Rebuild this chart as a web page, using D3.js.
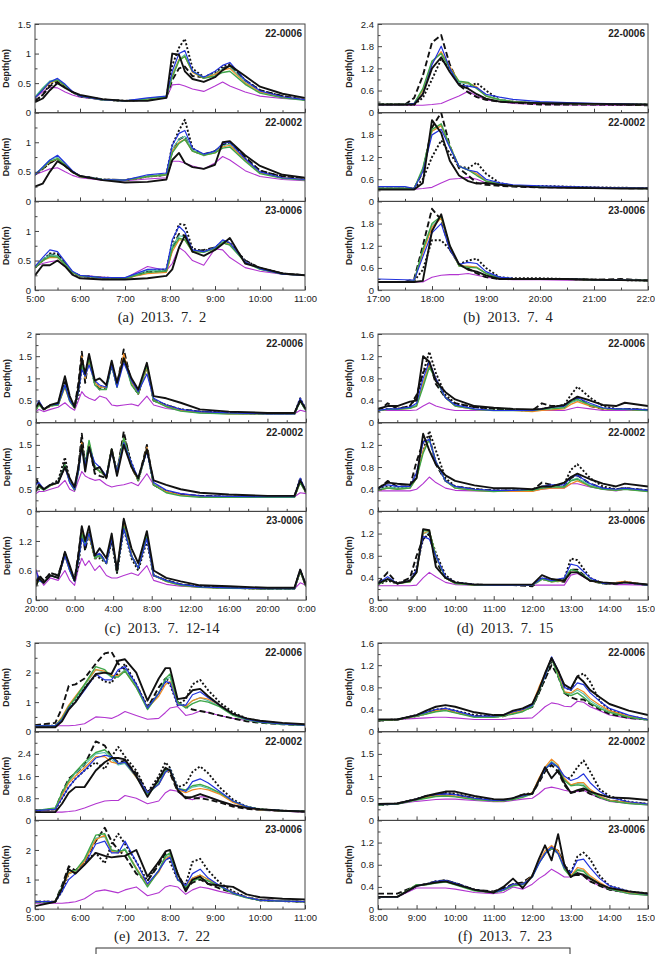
<!DOCTYPE html>
<html>
<head>
<meta charset="utf-8">
<script src="https://cdn.jsdelivr.net/npm/d3@7"></script>
<style>
  body { margin: 0; background: #fff; }
  svg { display: block; font-family: "Liberation Sans", Arial, sans-serif; }
</style>
</head>
<body>
<div id="chart"></div>
<script>
// series order in every depth table row
const seriesNames = ["Observed", "Model A", "Model B", "Model C", "Model D", "Model E", "Model F", "Model G"];
const stations = ["22-0006", "22-0002", "23-0006"];

// ---------- (a) 2013.7.2 ----------
const timeA = [5.0,5.17,5.33,5.5,5.67,5.83,6.0,6.5,7.0,7.5,7.92,8.05,8.2,8.33,8.5,8.75,9.0,9.17,9.33,9.67,10.0,10.5,11.0];
const depthA1 = [
  [0.18,0.24,0.38,0.5,0.42,0.35,0.3,0.23,0.2,0.2,0.25,1.0,0.98,0.7,0.57,0.52,0.6,0.72,0.8,0.62,0.44,0.32,0.25],
  [0.2,0.3,0.45,0.52,0.45,0.35,0.28,0.22,0.2,0.22,0.27,0.55,0.75,0.78,0.62,0.6,0.65,0.75,0.78,0.55,0.38,0.28,0.22],
  [0.2,0.3,0.48,0.55,0.45,0.35,0.28,0.22,0.2,0.22,0.27,0.8,1.1,1.25,0.75,0.6,0.68,0.78,0.82,0.55,0.38,0.28,0.22],
  [0.25,0.38,0.52,0.58,0.48,0.36,0.28,0.22,0.2,0.25,0.28,0.7,1.0,1.05,0.7,0.6,0.7,0.8,0.85,0.55,0.37,0.27,0.22],
  [0.25,0.38,0.5,0.55,0.46,0.35,0.28,0.22,0.2,0.23,0.27,0.62,0.9,0.95,0.68,0.58,0.65,0.72,0.75,0.5,0.35,0.26,0.22],
  [0.25,0.4,0.52,0.55,0.46,0.35,0.28,0.22,0.2,0.23,0.27,0.6,0.88,0.95,0.7,0.58,0.62,0.68,0.7,0.48,0.33,0.25,0.21],
  [0.27,0.42,0.54,0.56,0.46,0.35,0.28,0.22,0.2,0.24,0.28,0.65,0.9,0.98,0.7,0.6,0.66,0.74,0.78,0.52,0.35,0.26,0.22],
  [0.25,0.35,0.43,0.42,0.35,0.3,0.26,0.22,0.2,0.22,0.25,0.47,0.48,0.45,0.4,0.36,0.45,0.52,0.45,0.35,0.28,0.24,0.22]
];
const depthA2 = [
  [0.25,0.3,0.5,0.68,0.6,0.5,0.43,0.36,0.32,0.33,0.37,0.7,0.82,0.65,0.58,0.55,0.62,1.0,1.02,0.78,0.6,0.45,0.4],
  [0.45,0.55,0.65,0.72,0.6,0.5,0.43,0.37,0.36,0.42,0.45,0.85,1.05,1.1,0.85,0.8,0.85,0.95,1.0,0.75,0.52,0.42,0.38],
  [0.45,0.55,0.65,0.72,0.6,0.5,0.43,0.37,0.36,0.42,0.45,0.95,1.2,1.38,0.9,0.78,0.85,0.95,1.0,0.72,0.52,0.42,0.38],
  [0.45,0.58,0.7,0.78,0.65,0.52,0.43,0.37,0.36,0.45,0.48,0.95,1.15,1.2,0.9,0.8,0.85,0.98,1.0,0.72,0.5,0.4,0.37],
  [0.45,0.56,0.67,0.72,0.62,0.5,0.42,0.37,0.36,0.42,0.45,0.85,1.0,1.05,0.85,0.78,0.82,0.92,0.95,0.7,0.48,0.4,0.37],
  [0.45,0.56,0.68,0.72,0.62,0.5,0.42,0.37,0.36,0.42,0.45,0.82,0.98,1.05,0.85,0.78,0.82,0.9,0.92,0.68,0.47,0.39,0.36],
  [0.46,0.58,0.7,0.75,0.63,0.51,0.43,0.37,0.36,0.43,0.46,0.88,1.05,1.1,0.87,0.79,0.84,0.94,0.97,0.7,0.49,0.4,0.37],
  [0.45,0.5,0.55,0.57,0.5,0.44,0.4,0.36,0.35,0.38,0.4,0.68,0.68,0.65,0.6,0.55,0.65,0.76,0.7,0.52,0.42,0.37,0.35]
];
const depthA3 = [
  [0.25,0.42,0.42,0.5,0.4,0.26,0.2,0.18,0.18,0.2,0.24,0.35,0.72,0.92,0.65,0.58,0.68,0.78,0.88,0.45,0.38,0.28,0.25],
  [0.38,0.5,0.6,0.6,0.45,0.3,0.24,0.21,0.2,0.3,0.33,0.7,0.95,0.92,0.65,0.68,0.72,0.8,0.78,0.5,0.37,0.28,0.25],
  [0.38,0.5,0.62,0.62,0.45,0.3,0.24,0.21,0.2,0.32,0.35,0.8,1.12,1.1,0.7,0.66,0.72,0.82,0.8,0.5,0.37,0.28,0.25],
  [0.4,0.55,0.68,0.65,0.48,0.32,0.25,0.21,0.21,0.35,0.36,0.85,1.08,0.98,0.68,0.65,0.72,0.85,0.8,0.48,0.36,0.27,0.25],
  [0.38,0.5,0.55,0.55,0.42,0.3,0.24,0.21,0.2,0.28,0.3,0.65,0.85,0.85,0.65,0.65,0.7,0.8,0.78,0.48,0.36,0.27,0.25],
  [0.38,0.5,0.57,0.56,0.43,0.3,0.24,0.21,0.2,0.3,0.32,0.7,0.88,0.85,0.65,0.64,0.7,0.8,0.76,0.47,0.35,0.27,0.25],
  [0.4,0.52,0.6,0.58,0.44,0.31,0.24,0.21,0.21,0.33,0.34,0.75,0.92,0.9,0.67,0.65,0.72,0.82,0.78,0.48,0.36,0.27,0.25],
  [0.4,0.45,0.48,0.5,0.4,0.3,0.25,0.22,0.2,0.4,0.33,0.45,0.72,0.65,0.5,0.42,0.7,0.68,0.55,0.38,0.32,0.27,0.25]
];

// ---------- (b) 2013.7.4 ----------
const timeB = [17.0,17.5,17.67,17.83,18.0,18.17,18.33,18.5,18.67,18.83,19.0,19.25,19.5,20.0,20.5,21.0,21.5,22.0];
const depthB1 = [
  [0.22,0.22,0.22,0.5,1.2,1.5,1.1,0.75,0.65,0.5,0.38,0.3,0.28,0.26,0.25,0.24,0.23,0.22],
  [0.22,0.22,0.4,1.0,1.9,2.1,1.3,0.75,0.55,0.42,0.35,0.3,0.28,0.22,0.22,0.22,0.22,0.2],
  [0.22,0.22,0.22,0.4,0.9,1.45,1.2,0.8,0.7,0.8,0.6,0.35,0.3,0.25,0.24,0.23,0.22,0.22],
  [0.22,0.22,0.25,0.5,1.3,1.8,1.2,0.75,0.72,0.68,0.5,0.42,0.36,0.3,0.27,0.25,0.24,0.22],
  [0.22,0.22,0.25,0.6,1.35,1.65,1.25,0.85,0.8,0.7,0.45,0.35,0.3,0.26,0.25,0.24,0.23,0.22],
  [0.22,0.22,0.25,0.65,1.4,1.6,1.2,0.85,0.82,0.65,0.45,0.35,0.3,0.26,0.25,0.24,0.23,0.22],
  [0.22,0.22,0.25,0.6,1.38,1.62,1.22,0.82,0.78,0.68,0.47,0.36,0.31,0.27,0.25,0.24,0.23,0.22],
  [0.2,0.2,0.2,0.2,0.22,0.25,0.35,0.45,0.58,0.45,0.35,0.3,0.25,0.22,0.21,0.2,0.2,0.2]
];
const depthB2 = [
  [0.32,0.32,0.32,0.5,2.2,1.85,1.1,0.7,0.55,0.48,0.5,0.45,0.42,0.38,0.37,0.36,0.35,0.35],
  [0.35,0.35,0.35,0.8,2.0,2.4,1.5,0.9,0.7,0.5,0.45,0.42,0.4,0.38,0.38,0.37,0.36,0.35],
  [0.35,0.35,0.35,0.6,1.2,1.65,1.3,0.95,0.9,1.05,0.75,0.5,0.42,0.42,0.4,0.38,0.37,0.36],
  [0.4,0.4,0.35,0.8,1.8,1.95,1.45,0.95,0.85,0.8,0.6,0.5,0.45,0.42,0.4,0.38,0.37,0.36],
  [0.35,0.35,0.35,0.85,1.9,2.05,1.5,0.95,0.85,0.75,0.55,0.48,0.42,0.4,0.38,0.37,0.36,0.35],
  [0.35,0.35,0.35,0.9,1.95,2.1,1.5,0.95,0.85,0.7,0.55,0.47,0.42,0.4,0.38,0.37,0.36,0.35],
  [0.36,0.36,0.35,0.85,1.9,2.05,1.48,0.95,0.86,0.74,0.56,0.48,0.43,0.4,0.38,0.37,0.36,0.35],
  [0.33,0.33,0.33,0.35,0.38,0.5,0.6,0.62,0.65,0.6,0.5,0.45,0.42,0.38,0.37,0.36,0.35,0.35]
];
const depthB3 = [
  [0.22,0.22,0.22,0.25,1.6,2.05,1.2,0.7,0.55,0.5,0.4,0.3,0.3,0.3,0.3,0.28,0.27,0.26],
  [0.22,0.22,0.3,1.2,2.2,1.9,1.1,0.7,0.58,0.45,0.35,0.3,0.3,0.3,0.3,0.28,0.3,0.26],
  [0.22,0.22,0.25,0.55,1.35,1.35,1.1,0.7,0.8,0.85,0.6,0.35,0.32,0.32,0.3,0.28,0.27,0.26],
  [0.3,0.28,0.27,0.9,1.55,1.8,1.1,0.7,0.75,0.72,0.5,0.35,0.32,0.3,0.3,0.28,0.27,0.26],
  [0.22,0.22,0.25,1.0,1.7,1.95,1.15,0.65,0.65,0.62,0.45,0.33,0.3,0.3,0.29,0.28,0.27,0.26],
  [0.22,0.22,0.25,1.1,1.8,2.0,1.2,0.65,0.62,0.6,0.45,0.33,0.3,0.3,0.29,0.28,0.27,0.26],
  [0.22,0.22,0.25,1.05,1.75,1.97,1.17,0.66,0.64,0.62,0.46,0.34,0.31,0.3,0.29,0.28,0.27,0.26],
  [0.22,0.22,0.22,0.22,0.35,0.4,0.42,0.42,0.45,0.4,0.35,0.3,0.28,0.28,0.27,0.27,0.26,0.26]
];

// ---------- (c) 2013.7.12-14, hours after 20:00 on the 12th ----------
const timeC = [0,0.3,0.8,1.5,2.3,3.0,3.5,4.0,4.4,4.75,5.1,5.5,6.1,6.6,7.3,7.85,8.4,9.1,9.9,10.6,11.5,12.2,13.5,15,17,20,24,26.8,27.4,28];
const depthC1 = [
  [0.35,0.45,0.3,0.4,0.45,1.05,0.6,0.35,0.8,1.45,1.1,1.55,0.95,1.0,0.85,1.4,0.9,1.45,1.0,0.75,1.35,0.6,0.55,0.45,0.3,0.25,0.22,0.22,0.5,0.3],
  [0.3,0.45,0.3,0.4,0.42,0.9,0.55,0.35,0.9,1.6,0.9,1.5,0.9,0.75,0.8,1.35,0.85,1.65,0.9,0.65,1.3,0.5,0.4,0.3,0.25,0.22,0.2,0.2,0.5,0.28],
  [0.3,0.45,0.3,0.38,0.42,0.95,0.55,0.35,0.6,1.3,1.1,1.4,0.9,0.8,0.8,1.3,0.85,1.5,0.9,0.65,1.25,0.5,0.4,0.3,0.25,0.22,0.2,0.2,0.55,0.3],
  [0.35,0.5,0.3,0.4,0.42,0.85,0.5,0.35,0.7,1.2,1.05,1.3,0.95,0.85,0.8,1.3,0.8,1.35,0.95,0.7,1.1,0.55,0.4,0.3,0.25,0.22,0.2,0.2,0.55,0.3],
  [0.3,0.42,0.3,0.38,0.4,0.8,0.48,0.33,0.7,1.5,1.0,1.4,0.9,0.8,0.8,1.35,0.85,1.55,0.9,0.65,1.25,0.5,0.38,0.28,0.23,0.2,0.2,0.2,0.5,0.28],
  [0.28,0.4,0.3,0.38,0.4,0.82,0.48,0.33,0.7,1.3,1.05,1.45,0.85,0.75,0.75,1.3,0.8,1.45,0.85,0.65,1.3,0.5,0.36,0.26,0.22,0.2,0.2,0.2,0.48,0.27],
  [0.3,0.42,0.3,0.4,0.4,0.85,0.5,0.33,0.72,1.35,1.0,1.45,0.9,0.8,0.8,1.35,0.82,1.45,0.9,0.68,1.25,0.5,0.37,0.27,0.22,0.2,0.2,0.2,0.5,0.27],
  [0.25,0.3,0.25,0.3,0.35,0.45,0.35,0.28,0.5,0.7,0.6,0.55,0.5,0.6,0.55,0.4,0.38,0.4,0.42,0.38,0.6,0.4,0.32,0.28,0.25,0.22,0.2,0.2,0.28,0.25]
];
const depthC2 = [
  [0.45,0.6,0.5,0.6,0.65,1.0,0.75,0.55,1.0,1.5,0.9,1.45,0.95,1.0,0.75,1.4,0.8,1.5,1.0,0.75,1.4,0.7,0.6,0.5,0.42,0.38,0.35,0.35,0.7,0.45],
  [0.75,0.6,0.5,0.6,0.65,1.1,0.7,0.5,1.0,1.75,1.0,1.5,0.85,0.8,0.75,1.4,0.85,1.8,1.0,0.7,1.5,0.6,0.45,0.38,0.35,0.33,0.33,0.33,0.7,0.42],
  [0.65,0.6,0.5,0.6,0.7,1.22,0.7,0.5,0.9,1.6,1.1,1.5,1.0,0.9,0.8,1.4,0.9,1.7,1.1,0.7,1.4,0.6,0.45,0.38,0.35,0.33,0.33,0.33,0.75,0.42],
  [0.6,0.65,0.5,0.6,0.65,1.0,0.65,0.5,0.9,1.45,1.05,1.45,1.1,1.0,0.8,1.35,0.9,1.55,1.1,0.75,1.35,0.65,0.48,0.4,0.35,0.34,0.33,0.33,0.75,0.45],
  [0.5,0.55,0.5,0.58,0.65,1.0,0.65,0.5,0.9,1.55,1.0,1.55,1.0,0.9,0.8,1.4,0.88,1.65,1.0,0.7,1.45,0.6,0.45,0.37,0.33,0.32,0.32,0.32,0.65,0.42],
  [0.5,0.55,0.48,0.58,0.65,1.05,0.65,0.48,0.9,1.5,1.05,1.6,1.0,0.9,0.8,1.4,0.88,1.65,1.05,0.7,1.4,0.6,0.42,0.35,0.32,0.32,0.32,0.32,0.65,0.42],
  [0.52,0.57,0.5,0.6,0.65,1.0,0.66,0.5,0.9,1.5,1.02,1.55,1.02,0.92,0.8,1.38,0.88,1.62,1.04,0.72,1.4,0.62,0.44,0.36,0.33,0.32,0.32,0.32,0.68,0.43],
  [0.4,0.45,0.45,0.5,0.55,0.7,0.5,0.45,0.7,0.9,0.8,0.75,0.7,0.72,0.6,0.55,0.58,0.6,0.65,0.58,0.85,0.6,0.45,0.4,0.35,0.33,0.33,0.33,0.42,0.4]
];
const depthC3 = [
  [0.28,0.45,0.35,0.5,0.45,0.98,0.7,0.4,0.9,1.5,1.2,1.5,0.9,1.05,0.85,1.35,0.6,1.65,1.05,0.75,1.4,0.6,0.45,0.38,0.3,0.28,0.25,0.25,0.62,0.3],
  [0.35,0.5,0.4,0.55,0.5,0.95,0.65,0.4,0.95,1.45,1.0,1.4,0.85,0.95,0.75,1.25,0.55,1.6,0.9,0.65,1.3,0.5,0.4,0.32,0.27,0.25,0.23,0.23,0.6,0.28],
  [0.3,0.5,0.4,0.55,0.5,0.95,0.65,0.4,0.7,1.3,1.1,1.3,0.85,0.85,0.75,1.2,0.55,1.45,0.85,0.6,1.2,0.5,0.4,0.32,0.27,0.25,0.23,0.23,0.6,0.28],
  [0.6,0.4,0.35,0.5,0.45,0.9,0.6,0.38,0.8,1.25,1.1,1.35,0.9,0.95,0.75,1.25,0.6,1.45,0.9,0.65,1.25,0.5,0.4,0.32,0.27,0.25,0.23,0.23,0.62,0.3],
  [0.35,0.4,0.35,0.5,0.45,0.9,0.6,0.38,0.8,1.4,1.2,1.3,0.85,0.9,0.75,1.3,0.6,1.55,0.9,0.65,1.3,0.5,0.38,0.3,0.26,0.24,0.23,0.23,0.58,0.28],
  [0.3,0.4,0.35,0.5,0.45,0.92,0.6,0.38,0.8,1.35,1.15,1.35,0.85,0.9,0.75,1.3,0.58,1.5,0.9,0.65,1.3,0.5,0.38,0.3,0.26,0.24,0.23,0.23,0.58,0.28],
  [0.32,0.42,0.35,0.5,0.45,0.9,0.6,0.38,0.8,1.35,1.12,1.32,0.87,0.92,0.75,1.28,0.6,1.5,0.9,0.65,1.28,0.5,0.39,0.31,0.26,0.24,0.23,0.23,0.6,0.29],
  [0.62,0.45,0.3,0.45,0.4,0.6,0.4,0.3,0.65,0.85,0.7,0.8,0.6,0.7,0.5,0.45,0.45,0.5,0.55,0.5,0.7,0.4,0.32,0.28,0.26,0.25,0.23,0.23,0.35,0.3]
];

// ---------- (d) 2013.7.15 ----------
const timeD = [8.0,8.25,8.5,8.83,9.0,9.17,9.33,9.5,9.75,10.0,10.5,11.0,11.5,12.0,12.25,12.5,12.83,13.0,13.17,13.5,13.83,14.17,14.4,15.0];
const depthD1 = [
  [0.25,0.3,0.3,0.38,0.4,1.2,1.1,0.75,0.55,0.42,0.3,0.27,0.25,0.24,0.25,0.28,0.32,0.4,0.47,0.4,0.32,0.3,0.36,0.3],
  [0.2,0.35,0.25,0.3,0.5,0.9,1.1,0.7,0.45,0.35,0.28,0.25,0.24,0.22,0.35,0.3,0.3,0.4,0.45,0.3,0.25,0.25,0.25,0.23],
  [0.22,0.25,0.25,0.3,0.45,0.9,1.28,0.9,0.5,0.35,0.28,0.25,0.23,0.22,0.25,0.28,0.32,0.5,0.65,0.45,0.3,0.25,0.25,0.23],
  [0.22,0.25,0.25,0.28,0.35,0.8,1.1,0.8,0.45,0.32,0.25,0.22,0.22,0.22,0.25,0.28,0.3,0.4,0.45,0.35,0.27,0.25,0.25,0.23],
  [0.22,0.24,0.24,0.26,0.3,0.7,1.05,0.8,0.45,0.3,0.24,0.22,0.22,0.2,0.22,0.23,0.25,0.33,0.38,0.3,0.25,0.24,0.24,0.22],
  [0.22,0.24,0.24,0.26,0.3,0.65,1.0,0.78,0.45,0.3,0.24,0.22,0.22,0.22,0.24,0.25,0.27,0.38,0.42,0.32,0.26,0.24,0.24,0.22],
  [0.22,0.24,0.24,0.27,0.32,0.72,1.05,0.8,0.45,0.31,0.24,0.22,0.22,0.22,0.24,0.26,0.28,0.36,0.4,0.32,0.26,0.24,0.24,0.22],
  [0.22,0.22,0.22,0.22,0.23,0.3,0.36,0.3,0.25,0.22,0.22,0.22,0.22,0.22,0.22,0.22,0.22,0.25,0.28,0.25,0.22,0.22,0.22,0.22]
];
const depthD2 = [
  [0.42,0.52,0.5,0.48,0.6,1.4,1.1,0.85,0.65,0.55,0.47,0.42,0.42,0.4,0.45,0.45,0.52,0.62,0.68,0.58,0.5,0.45,0.5,0.45],
  [0.4,0.55,0.45,0.45,0.9,1.25,1.35,0.85,0.55,0.45,0.4,0.38,0.38,0.38,0.52,0.48,0.45,0.6,0.65,0.5,0.42,0.4,0.42,0.38],
  [0.4,0.45,0.42,0.45,0.7,1.1,1.45,1.1,0.6,0.45,0.4,0.38,0.38,0.38,0.42,0.45,0.5,0.75,0.85,0.6,0.45,0.4,0.42,0.38],
  [0.42,0.48,0.45,0.45,0.7,1.25,1.3,0.9,0.55,0.45,0.4,0.38,0.38,0.4,0.45,0.48,0.48,0.62,0.65,0.5,0.42,0.4,0.42,0.38],
  [0.38,0.42,0.4,0.42,0.6,1.1,1.3,0.9,0.55,0.42,0.38,0.36,0.36,0.36,0.4,0.42,0.42,0.5,0.55,0.45,0.4,0.38,0.4,0.36],
  [0.38,0.42,0.4,0.42,0.6,1.05,1.3,0.9,0.55,0.42,0.38,0.36,0.38,0.38,0.42,0.44,0.44,0.55,0.58,0.45,0.4,0.38,0.4,0.36],
  [0.39,0.44,0.42,0.43,0.62,1.1,1.3,0.9,0.55,0.43,0.39,0.37,0.37,0.37,0.42,0.44,0.45,0.56,0.6,0.47,0.41,0.39,0.41,0.37],
  [0.37,0.37,0.37,0.37,0.4,0.5,0.62,0.52,0.42,0.38,0.37,0.37,0.37,0.37,0.4,0.42,0.42,0.5,0.5,0.44,0.4,0.37,0.4,0.37]
];
const depthD3 = [
  [0.3,0.38,0.3,0.35,0.5,1.28,1.26,0.6,0.4,0.32,0.28,0.28,0.28,0.28,0.45,0.38,0.35,0.5,0.5,0.35,0.32,0.3,0.32,0.28],
  [0.3,0.5,0.3,0.4,0.8,1.1,1.2,0.7,0.4,0.32,0.28,0.27,0.27,0.25,0.4,0.35,0.33,0.55,0.55,0.35,0.3,0.3,0.33,0.27],
  [0.28,0.35,0.3,0.35,0.6,1.1,1.2,0.85,0.45,0.32,0.28,0.27,0.27,0.27,0.38,0.35,0.38,0.75,0.72,0.4,0.3,0.3,0.33,0.27],
  [0.3,0.42,0.3,0.35,0.55,1.15,1.1,0.8,0.42,0.32,0.28,0.27,0.27,0.27,0.4,0.35,0.4,0.65,0.62,0.4,0.3,0.3,0.32,0.27],
  [0.28,0.38,0.3,0.33,0.5,1.2,1.25,0.8,0.4,0.3,0.27,0.27,0.27,0.27,0.38,0.33,0.35,0.5,0.5,0.35,0.3,0.32,0.34,0.27],
  [0.28,0.38,0.3,0.33,0.5,1.25,1.25,0.8,0.4,0.3,0.27,0.27,0.27,0.27,0.38,0.33,0.36,0.55,0.52,0.36,0.3,0.3,0.32,0.27],
  [0.28,0.38,0.3,0.33,0.52,1.2,1.22,0.8,0.4,0.3,0.27,0.27,0.27,0.27,0.38,0.33,0.36,0.55,0.52,0.36,0.3,0.31,0.33,0.27],
  [0.26,0.26,0.26,0.26,0.27,0.4,0.5,0.42,0.32,0.28,0.27,0.27,0.27,0.27,0.27,0.27,0.27,0.45,0.48,0.35,0.3,0.28,0.28,0.27]
];

// ---------- (e) 2013.7.22 ----------
const timeE = [5.0,5.45,5.6,5.75,5.9,6.1,6.35,6.55,6.7,6.85,7.0,7.25,7.5,7.75,7.9,8.0,8.17,8.35,8.5,8.67,8.85,9.1,9.4,9.7,10.0,10.5,11.0];
const depthE1 = [
  [0.15,0.15,0.35,0.75,1.0,1.45,1.95,2.0,1.95,2.4,2.45,2.0,1.05,1.8,2.15,2.15,1.1,1.15,1.4,1.45,1.2,0.9,0.6,0.45,0.37,0.3,0.25],
  [0.22,0.3,0.8,1.55,1.6,1.8,2.3,2.65,2.7,2.3,2.1,1.6,0.8,1.5,1.8,1.7,1.0,0.85,0.75,0.7,0.65,0.55,0.45,0.35,0.3,0.25,0.22],
  [0.2,0.2,0.4,0.8,1.1,1.5,1.9,1.7,1.65,2.0,2.3,1.6,0.85,1.3,1.7,1.6,0.9,1.1,1.6,1.75,1.4,1.0,0.65,0.45,0.35,0.28,0.22],
  [0.2,0.2,0.4,0.8,1.0,1.4,1.95,1.75,1.75,2.1,2.2,1.6,0.8,1.3,1.7,1.65,0.9,0.9,1.25,1.35,1.15,0.9,0.6,0.42,0.33,0.26,0.22],
  [0.2,0.2,0.5,0.9,1.2,1.6,2.1,2.05,1.9,1.9,2.05,1.5,0.8,1.2,1.6,1.7,0.95,0.85,1.05,1.15,1.1,0.9,0.6,0.42,0.33,0.26,0.22],
  [0.2,0.2,0.45,0.85,1.15,1.6,2.2,2.1,1.85,1.85,2.05,1.5,0.75,1.3,1.8,1.95,1.0,0.8,0.95,1.05,1.0,0.85,0.55,0.4,0.32,0.25,0.22],
  [0.2,0.2,0.45,0.85,1.12,1.55,2.1,2.0,1.85,1.9,2.1,1.55,0.8,1.3,1.75,1.85,0.98,0.85,1.05,1.15,1.05,0.87,0.58,0.41,0.32,0.25,0.22],
  [0.2,0.2,0.2,0.2,0.22,0.27,0.5,0.48,0.45,0.55,0.68,0.55,0.42,0.45,0.65,0.8,0.85,0.55,0.6,0.7,0.65,0.55,0.45,0.38,0.33,0.27,0.22]
];
const depthE2 = [
  [0.3,0.3,0.6,1.0,1.2,1.2,1.8,2.1,2.25,2.25,2.2,1.6,0.85,1.5,1.9,1.8,1.1,0.8,0.85,0.95,0.85,0.7,0.55,0.45,0.4,0.35,0.32],
  [0.35,0.4,1.0,1.5,1.7,2.0,2.85,2.7,2.3,2.1,2.15,1.7,1.0,1.45,1.85,1.7,1.05,0.85,0.8,0.8,0.75,0.65,0.5,0.42,0.38,0.35,0.32],
  [0.35,0.4,0.8,1.2,1.5,1.8,2.1,1.85,2.3,2.65,2.3,1.8,1.0,1.6,2.1,1.9,1.2,1.3,1.75,1.95,1.7,1.2,0.75,0.5,0.4,0.35,0.32],
  [0.35,0.4,0.8,1.2,1.5,1.8,2.25,2.35,2.3,2.05,2.1,1.6,1.0,1.3,1.75,1.85,1.15,1.05,1.4,1.5,1.35,1.05,0.7,0.5,0.4,0.35,0.32],
  [0.35,0.4,0.9,1.35,1.6,1.9,2.3,2.3,2.1,2.05,2.1,1.55,1.0,1.3,1.75,1.8,1.1,1.0,1.1,1.15,1.1,0.95,0.65,0.48,0.38,0.34,0.32],
  [0.35,0.45,1.0,1.45,1.75,2.1,2.45,2.55,2.3,2.05,2.1,1.6,0.95,1.35,1.8,1.85,1.15,1.1,1.25,1.3,1.2,1.0,0.7,0.5,0.4,0.35,0.32],
  [0.35,0.42,0.95,1.4,1.7,2.0,2.4,2.45,2.2,2.0,2.05,1.55,0.95,1.3,1.75,1.8,1.12,1.05,1.2,1.25,1.15,0.97,0.67,0.48,0.38,0.34,0.32],
  [0.3,0.3,0.3,0.32,0.35,0.45,0.6,0.7,0.72,0.72,0.9,0.8,0.6,0.7,1.0,1.1,1.05,0.8,0.75,0.85,0.85,0.7,0.55,0.45,0.38,0.33,0.3]
];
const depthE3 = [
  [0.1,0.25,0.7,1.35,1.2,1.5,1.9,1.8,1.75,1.78,1.8,2.0,1.1,1.6,1.95,2.0,1.2,0.6,1.0,1.1,0.85,0.8,0.75,0.5,0.4,0.35,0.33],
  [0.25,0.25,0.8,1.45,1.3,1.6,2.3,2.75,2.3,2.0,1.8,1.2,0.95,1.5,1.9,1.85,1.2,0.7,0.9,1.0,0.85,0.7,0.55,0.4,0.3,0.27,0.25],
  [0.25,0.25,0.6,1.2,1.3,1.6,1.9,1.55,2.2,2.55,2.2,1.6,0.95,1.6,1.85,1.6,1.0,0.85,1.6,1.7,1.3,0.9,0.6,0.4,0.3,0.27,0.25],
  [0.25,0.25,0.6,1.0,1.2,1.5,2.2,2.3,1.9,1.9,2.3,1.6,0.85,1.3,1.65,1.75,1.0,0.8,1.2,1.35,1.05,0.8,0.55,0.4,0.3,0.27,0.25],
  [0.25,0.25,0.7,1.2,1.3,1.6,2.35,2.5,1.95,1.9,2.0,1.4,0.8,1.25,1.7,1.8,1.0,0.8,1.05,1.15,1.0,0.8,0.55,0.4,0.3,0.27,0.25],
  [0.25,0.25,0.75,1.3,1.3,1.7,2.5,2.55,2.0,1.95,2.0,1.35,0.75,1.3,1.8,1.9,1.0,0.75,0.95,1.05,0.95,0.78,0.52,0.38,0.3,0.27,0.25],
  [0.25,0.25,0.7,1.2,1.28,1.65,2.4,2.45,1.95,1.9,2.05,1.4,0.8,1.3,1.75,1.82,1.0,0.78,1.05,1.15,1.0,0.8,0.55,0.4,0.3,0.27,0.25],
  [0.2,0.2,0.2,0.22,0.25,0.35,0.6,0.65,0.6,0.55,0.65,0.75,0.45,0.55,0.75,0.8,0.75,0.5,0.65,0.75,0.7,0.6,0.5,0.4,0.32,0.27,0.25]
];

// ---------- (f) 2013.7.23 ----------
const timeF = [8.0,8.5,9.0,9.25,9.5,9.75,10.0,10.5,11.0,11.25,11.5,11.75,12.0,12.17,12.33,12.5,12.67,12.83,13.0,13.17,13.33,13.5,13.75,14.0,14.5,15.0];
const depthF1 = [
  [0.22,0.22,0.3,0.38,0.45,0.48,0.45,0.35,0.3,0.3,0.38,0.42,0.5,0.75,1.05,1.33,1.1,0.85,0.78,1.0,0.9,0.75,0.62,0.5,0.38,0.3],
  [0.2,0.22,0.28,0.33,0.38,0.4,0.35,0.28,0.28,0.28,0.33,0.38,0.45,0.7,0.95,1.2,1.0,0.7,0.62,0.58,0.58,0.5,0.4,0.32,0.25,0.22],
  [0.2,0.22,0.3,0.35,0.4,0.42,0.38,0.3,0.28,0.3,0.35,0.4,0.45,0.7,0.95,1.28,1.1,0.8,0.75,1.0,1.05,0.9,0.55,0.4,0.28,0.22],
  [0.22,0.22,0.3,0.35,0.4,0.42,0.38,0.28,0.28,0.3,0.36,0.4,0.48,0.75,1.0,1.35,1.1,0.8,0.75,0.88,0.85,0.7,0.55,0.42,0.3,0.22],
  [0.2,0.22,0.28,0.32,0.38,0.4,0.35,0.27,0.27,0.28,0.34,0.38,0.5,0.8,1.05,1.33,1.05,0.72,0.7,0.78,0.72,0.6,0.48,0.38,0.28,0.22],
  [0.2,0.22,0.28,0.32,0.36,0.38,0.34,0.26,0.26,0.28,0.32,0.36,0.45,0.72,1.0,1.33,1.0,0.7,0.65,0.7,0.62,0.52,0.42,0.35,0.26,0.21],
  [0.2,0.22,0.28,0.33,0.37,0.39,0.35,0.27,0.27,0.29,0.34,0.38,0.47,0.75,1.02,1.32,1.02,0.72,0.68,0.75,0.68,0.56,0.45,0.37,0.27,0.22],
  [0.2,0.22,0.24,0.25,0.26,0.26,0.25,0.22,0.22,0.22,0.24,0.24,0.25,0.35,0.45,0.52,0.5,0.46,0.45,0.55,0.53,0.45,0.38,0.3,0.24,0.21]
];
const depthF2 = [
  [0.37,0.38,0.48,0.55,0.6,0.65,0.65,0.55,0.48,0.47,0.5,0.58,0.6,0.9,1.2,0.95,1.13,0.85,0.62,0.68,0.72,0.65,0.58,0.52,0.5,0.46],
  [0.35,0.38,0.48,0.55,0.58,0.6,0.58,0.5,0.45,0.45,0.48,0.55,0.6,0.85,1.1,1.25,1.1,0.8,0.62,0.65,0.68,0.6,0.52,0.45,0.4,0.37],
  [0.35,0.38,0.48,0.55,0.58,0.62,0.6,0.5,0.45,0.45,0.5,0.58,0.62,0.9,1.15,1.3,1.2,0.9,0.98,1.2,1.35,1.1,0.7,0.55,0.42,0.37],
  [0.36,0.38,0.48,0.55,0.58,0.6,0.58,0.5,0.45,0.45,0.5,0.55,0.6,0.9,1.15,1.3,1.2,1.0,0.9,0.95,1.05,0.85,0.65,0.52,0.42,0.37],
  [0.36,0.38,0.47,0.52,0.56,0.57,0.55,0.48,0.44,0.44,0.48,0.55,0.62,0.95,1.2,1.38,1.25,0.95,0.8,0.85,0.85,0.7,0.55,0.45,0.4,0.36],
  [0.35,0.37,0.46,0.5,0.54,0.55,0.53,0.47,0.44,0.44,0.47,0.52,0.6,0.9,1.15,1.3,1.2,0.9,0.78,0.8,0.78,0.65,0.52,0.44,0.38,0.35],
  [0.35,0.38,0.47,0.52,0.55,0.56,0.54,0.48,0.44,0.44,0.48,0.54,0.61,0.92,1.17,1.33,1.22,0.92,0.8,0.83,0.82,0.68,0.54,0.45,0.39,0.36],
  [0.35,0.37,0.43,0.45,0.47,0.48,0.48,0.45,0.42,0.42,0.45,0.48,0.5,0.6,0.72,0.75,0.72,0.68,0.65,0.65,0.68,0.6,0.5,0.43,0.38,0.35]
];
const depthF3 = [
  [0.22,0.22,0.42,0.45,0.48,0.5,0.45,0.35,0.3,0.4,0.55,0.38,0.6,0.9,1.15,0.88,1.35,0.8,0.58,0.65,0.62,0.55,0.45,0.38,0.32,0.28],
  [0.28,0.28,0.42,0.45,0.5,0.52,0.47,0.35,0.32,0.38,0.45,0.48,0.6,0.85,1.0,1.1,1.05,0.8,0.6,0.62,0.6,0.5,0.42,0.35,0.3,0.27],
  [0.22,0.22,0.42,0.45,0.5,0.52,0.47,0.35,0.3,0.35,0.45,0.45,0.6,0.85,1.0,1.1,1.05,0.8,0.65,0.95,1.02,0.9,0.6,0.42,0.32,0.28],
  [0.22,0.22,0.42,0.45,0.5,0.52,0.47,0.35,0.3,0.35,0.45,0.45,0.58,0.82,1.0,1.12,1.0,0.75,0.65,0.88,0.9,0.75,0.55,0.42,0.32,0.27],
  [0.22,0.22,0.44,0.44,0.48,0.5,0.45,0.34,0.3,0.34,0.44,0.45,0.6,0.85,1.05,1.15,1.05,0.75,0.6,0.75,0.72,0.6,0.48,0.38,0.3,0.26],
  [0.22,0.22,0.44,0.44,0.47,0.49,0.44,0.33,0.3,0.34,0.42,0.44,0.58,0.82,1.0,1.1,1.0,0.72,0.58,0.7,0.68,0.55,0.45,0.36,0.28,0.25],
  [0.22,0.22,0.44,0.44,0.48,0.5,0.45,0.34,0.3,0.34,0.43,0.45,0.59,0.84,1.02,1.12,1.02,0.74,0.6,0.72,0.7,0.58,0.46,0.37,0.29,0.26],
  [0.22,0.22,0.38,0.38,0.38,0.38,0.36,0.3,0.28,0.3,0.4,0.36,0.45,0.55,0.62,0.72,0.65,0.58,0.58,0.65,0.6,0.5,0.42,0.35,0.28,0.25]
];

// axis labels
const labelsHourA = ["5:00","6:00","7:00","8:00","9:00","10:00","11:00"];
const labelsHourB = ["17:00","18:00","19:00","20:00","21:00","22:00"];
const labelsHourC = ["20:00","0:00","4:00","8:00","12:00","16:00","20:00","0:00"];
const labelsHourD = ["8:00","9:00","10:00","11:00","12:00","13:00","14:00","15:00"];
const captions = ["(a)  2013.  7.  2", "(b)  2013.  7.  4", "(c)  2013.  7.  12-14",
                  "(d)  2013.  7.  15", "(e)  2013.  7.  22", "(f)  2013.  7.  23"];

// line look, same order as seriesNames
const lineStyle = [
  { color: "#111", width: 1.9, dash: null },
  { color: "#111", width: 1.9, dash: "6,3" },
  { color: "#111", width: 1.9, dash: "2,2" },
  { color: "#2233dd", width: 1.2, dash: null },
  { color: "#f08a24", width: 1.2, dash: null },
  { color: "#3fa64a", width: 1.4, dash: null },
  { color: "#52bfa8", width: 1.1, dash: null },
  { color: "#b235d0", width: 1.1, dash: null }
];
const drawOrder = [7, 2, 1, 6, 4, 5, 3, 0];

const W = 655, H = 954;
const svg = d3.select("#chart").append("svg").attr("width", W).attr("height", H);

const plotW = 270, subH = 88.7;
const hours = (a, b, s) => d3.range(a, b + 1e-9, s);

const panels = [
  { times: timeA, data: [depthA1, depthA2, depthA3], left: 35, top: 24, x0: 5, x1: 11,
    major: hours(5, 11, 1), minor: hours(5.5, 10.5, 1), labels: labelsHourA,
    yMax: [1.5, 1.5, 1.5], yTicks: [[0, 0.5, 1, 1.5], [0, 0.5, 1], [0, 0.5, 1]], cap: captions[0], capX: 162, capY: 322 },
  { times: timeB, data: [depthB1, depthB2, depthB3], left: 378, top: 24, x0: 17, x1: 22,
    major: hours(17, 22, 1), minor: hours(17.5, 21.5, 1), labels: labelsHourB,
    yMax: [2.4, 2.4, 2.4], yTicks: [[0, 0.6, 1.2, 1.8, 2.4], [0, 0.6, 1.2, 1.8], [0, 0.6, 1.2, 1.8]], cap: captions[1], capX: 508, capY: 322 },
  { times: timeC, data: [depthC1, depthC2, depthC3], left: 36, top: 334, x0: 0, x1: 28,
    major: hours(0, 28, 4), minor: hours(2, 26, 4), labels: labelsHourC,
    yMax: [2, 2, 1.8], yTicks: [[0, 0.5, 1, 1.5, 2], [0, 0.5, 1, 1.5], [0, 0.6, 1.2]], cap: captions[2], capX: 162, capY: 633 },
  { times: timeD, data: [depthD1, depthD2, depthD3], left: 378, top: 334, x0: 8, x1: 15,
    major: hours(8, 15, 1), minor: hours(8.5, 14.5, 1), labels: labelsHourD,
    yMax: [1.6, 1.6, 1.6], yTicks: [[0, 0.4, 0.8, 1.2, 1.6], [0, 0.4, 0.8, 1.2], [0, 0.4, 0.8, 1.2]], cap: captions[3], capX: 505, capY: 633 },
  { times: timeE, data: [depthE1, depthE2, depthE3], left: 35, top: 643, x0: 5, x1: 11,
    major: hours(5, 11, 1), minor: hours(5.5, 10.5, 1), labels: labelsHourA,
    yMax: [3, 3.2, 3], yTicks: [[0, 1, 2, 3], [0, 0.8, 1.6, 2.4], [0, 1, 2]], cap: captions[4], capX: 162, capY: 941 },
  { times: timeF, data: [depthF1, depthF2, depthF3], left: 378, top: 643, x0: 8, x1: 15,
    major: hours(8, 15, 1), minor: hours(8.5, 14.5, 1), labels: labelsHourD,
    yMax: [1.6, 2, 1.6], yTicks: [[0, 0.4, 0.8, 1.2, 1.6], [0, 0.5, 1, 1.5], [0, 0.4, 0.8, 1.2]], cap: captions[5], capX: 505, capY: 941 }
];

const fmt = v => String(+v.toFixed(2));

panels.forEach((p, pi) => {
  const x = d3.scaleLinear().domain([p.x0, p.x1]).range([p.left, p.left + plotW]);

  p.data.forEach((rows, si) => {
    const top = p.top + si * subH, bottom = top + subH;
    const y = d3.scaleLinear().domain([0, p.yMax[si]]).range([bottom, top]);
    const id = `clip-${pi}-${si}`;
    svg.append("clipPath").attr("id", id).append("rect")
      .attr("x", p.left).attr("y", top).attr("width", plotW).attr("height", subH);

    const g = svg.append("g").attr("clip-path", `url(#${id})`);
    const line = d3.line().x((d, j) => x(p.times[j])).y(d => y(d));
    drawOrder.forEach(k => {
      const s = lineStyle[k];
      g.append("path")
        .attr("d", line(rows[k]))
        .attr("fill", "none")
        .attr("stroke", s.color)
        .attr("stroke-width", s.width)
        .attr("stroke-dasharray", s.dash)
        .attr("stroke-linejoin", "round");
    });

    // inward ticks
    svg.append("g").attr("transform", `translate(0,${bottom})`)
      .call(d3.axisTop(x).tickValues(p.major).tickSize(4).tickFormat(""))
      .call(a => a.select(".domain").remove());
    svg.append("g").attr("transform", `translate(0,${bottom})`)
      .call(d3.axisTop(x).tickValues(p.minor).tickSize(2.5).tickFormat(""))
      .call(a => a.select(".domain").remove());
    const yt = p.yTicks[si];
    const step = yt[1] - yt[0];
    const yMinor = d3.range(step / 2, p.yMax[si], step);
    svg.append("g").attr("transform", `translate(${p.left},0)`)
      .call(d3.axisRight(y).tickValues(yt).tickSize(4).tickFormat(""))
      .call(a => a.select(".domain").remove());
    svg.append("g").attr("transform", `translate(${p.left},0)`)
      .call(d3.axisRight(y).tickValues(yMinor).tickSize(2.5).tickFormat(""))
      .call(a => a.select(".domain").remove());
    // tick labels on the left
    svg.append("g").attr("transform", `translate(${p.left},0)`)
      .call(d3.axisLeft(y).tickValues(yt).tickSize(0).tickPadding(4).tickFormat(fmt))
      .call(a => a.select(".domain").remove())
      .call(a => a.selectAll("text").attr("font-size", 9.5).attr("fill", "#222")
        .attr("font-family", "Liberation Sans, Arial, sans-serif"));

    svg.selectAll("g .tick line").attr("stroke", "#444");

    // frame
    svg.append("rect")
      .attr("x", p.left).attr("y", top).attr("width", plotW).attr("height", subH)
      .attr("fill", "none").attr("stroke", "#444").attr("stroke-width", 1);

    svg.append("text")
      .attr("x", p.left + plotW - 3).attr("y", top + 13)
      .attr("text-anchor", "end").attr("font-size", 10).attr("font-weight", "bold")
      .attr("fill", "#222").text(stations[si]);

    svg.append("text")
      .attr("transform", `translate(${p.left - 26},${top + subH / 2}) rotate(-90)`)
      .attr("text-anchor", "middle").attr("font-size", 8.8).attr("font-weight", "bold")
      .attr("fill", "#222").text("Depth(m)");
  });

  const bottom = p.top + 3 * subH;
  svg.append("g").attr("transform", `translate(0,${bottom})`)
    .call(d3.axisBottom(x).tickValues(p.major).tickSize(0).tickPadding(5).tickFormat((d, i) => p.labels[i]))
    .call(a => a.select(".domain").remove())
    .call(a => a.selectAll("text").attr("font-size", 9.5).attr("fill", "#222")
      .attr("font-family", "Liberation Sans, Arial, sans-serif"));

  svg.append("text")
    .attr("x", p.capX).attr("y", p.capY)
    .attr("text-anchor", "middle")
    .attr("font-family", "Liberation Serif, 'DejaVu Serif', serif")
    .attr("font-size", 14.5).attr("fill", "#222")
    .attr("xml:space", "preserve").style("white-space", "pre")
    .text(p.cap);
});

// legend box (cut by the bottom edge)
svg.append("rect")
  .attr("x", 96).attr("y", 948).attr("width", 474).attr("height", 30)
  .attr("fill", "none").attr("stroke", "#333").attr("stroke-width", 1);
</script>
</body>
</html>
